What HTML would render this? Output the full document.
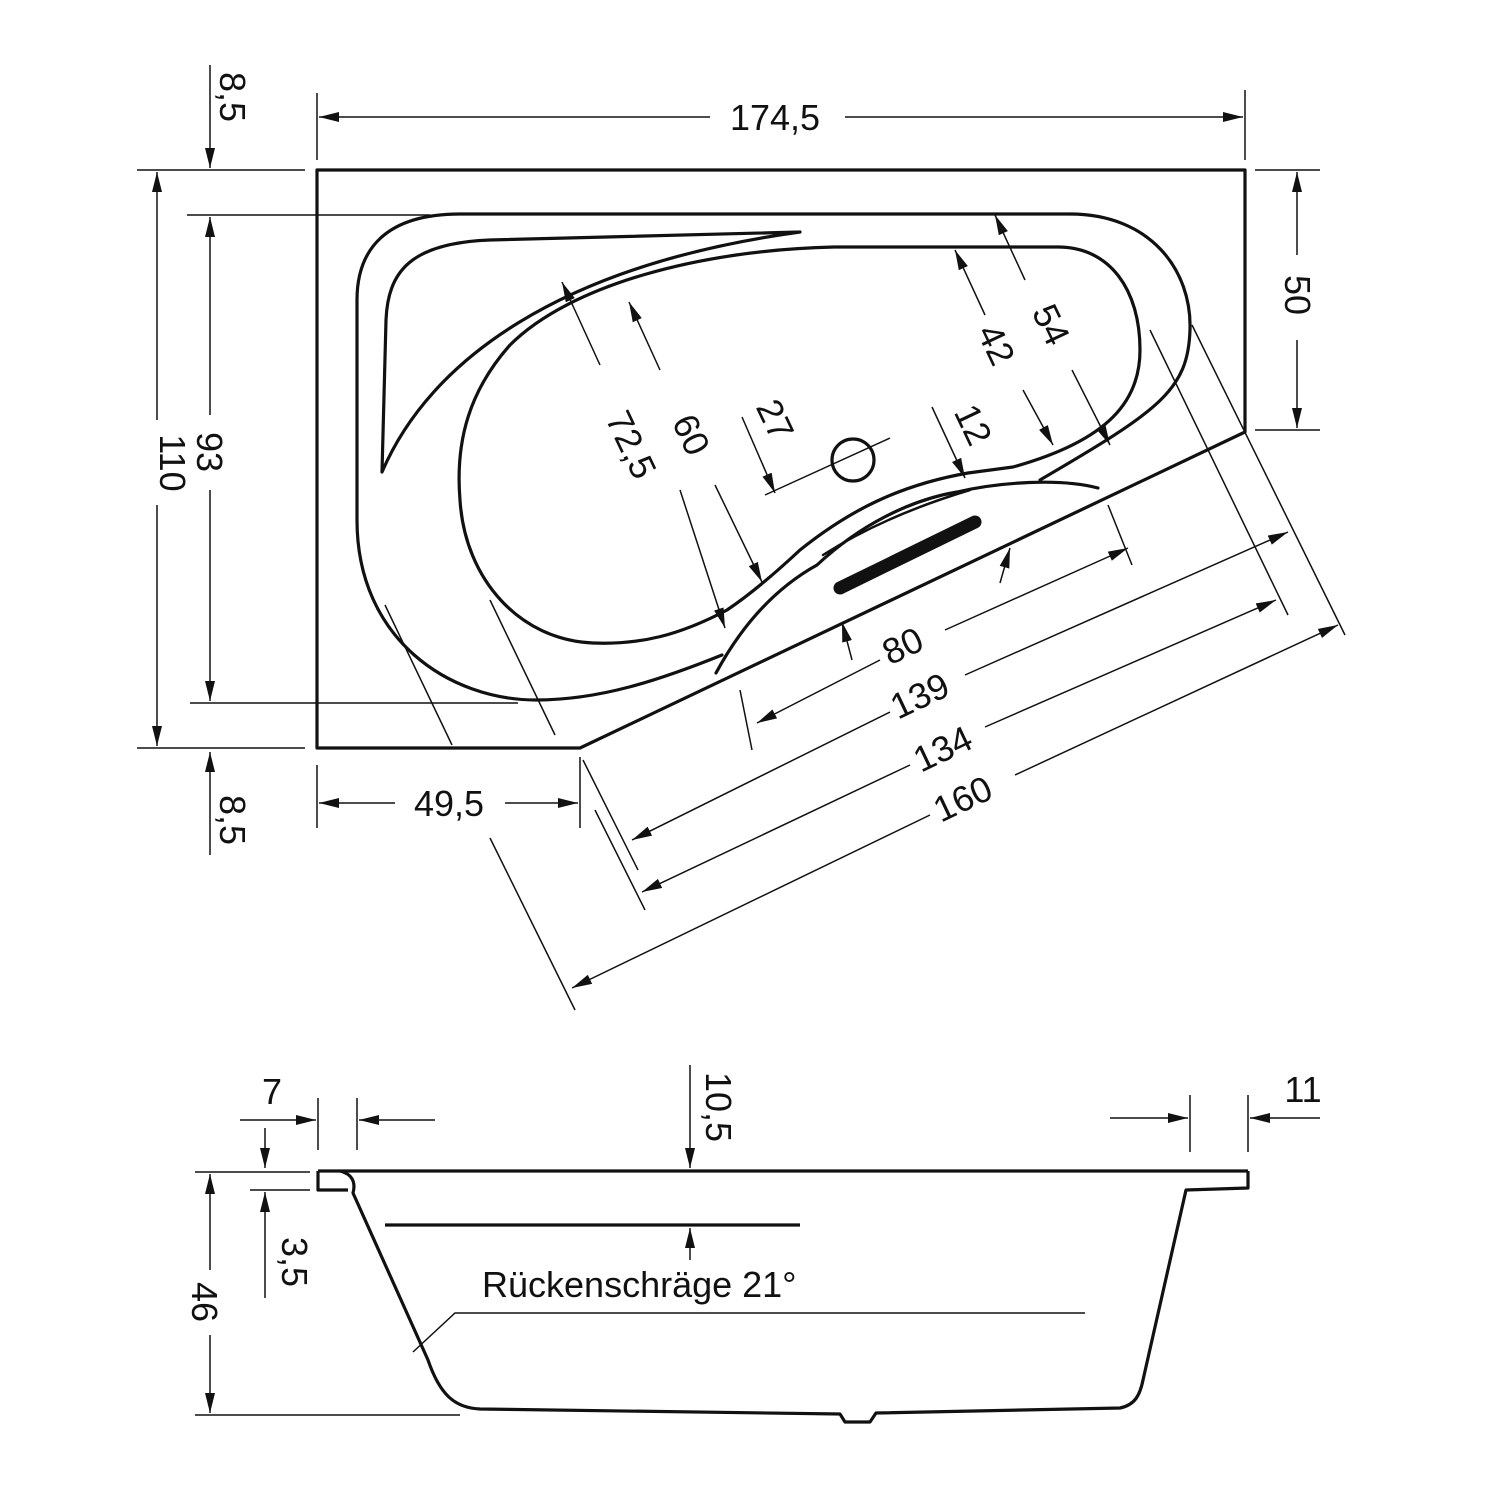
<!DOCTYPE html>
<html><head><meta charset="utf-8"><style>
html,body{margin:0;padding:0;background:#fff}
svg{display:block}
text{font-family:"Liberation Sans","DejaVu Sans",sans-serif;font-size:36px;fill:#111}
</style></head><body>
<svg width="1500" height="1500" viewBox="0 0 1500 1500" xmlns="http://www.w3.org/2000/svg">
<defs>
<marker id="a" viewBox="0 0 20 10" refX="20" refY="5" markerWidth="20" markerHeight="10" markerUnits="userSpaceOnUse" orient="auto">
<path d="M0,0 L20,5 L0,10 Z" fill="#111"/></marker>
</defs>
<g fill="none" stroke="#111" stroke-width="3.2" stroke-linejoin="round" stroke-linecap="round">
<path d="M317,170 L1245,170 L1245,432 L580,748 L317,748 Z"/>
<path d="M1070,214 L460,214 C385,214 357,250 357,300 L357,520 C357,640 450,700 536,700 C600,700 660,680 722,655"/>
<path d="M1070,214 C1150,214 1192,270 1190,330 C1188,390 1160,410 1040,480"/>
<path d="M800,232 L490,240 C410,243 388,272 386,320 L382,472 C430,360 560,265 800,232"/>
<path d="M834,247 L1058,247 C1110,247 1140,290 1140,350 C1140,400 1110,440 1013,467 L968,473 C900,485 850,510 800,550 C770,578 745,598 727,610 C680,635 640,645 593,643 C520,640 465,580 460,500 C455,440 470,390 510,345 C570,285 700,250 834,247 Z"/>
<path d="M716,673 C750,610 790,580 817,565 C860,525 910,500 957,492 C1000,482 1060,478 1098,488"/>
<path d="M823,555 C870,525 920,505 970,490" stroke-width="2.5"/>
<line x1="840" y1="588" x2="975" y2="522" stroke-width="13"/>
<circle cx="853" cy="460" r="21"/>
</g>
<g fill="none" stroke="#111" stroke-width="1.5">
<line x1="765" y1="495" x2="890" y2="438"/>
<line x1="137" y1="170" x2="305" y2="170"/><line x1="137" y1="748" x2="305" y2="748"/>
<line x1="157" y1="420" x2="157" y2="172" marker-end="url(#a)"/><line x1="157" y1="505" x2="157" y2="746" marker-end="url(#a)"/>
<line x1="187" y1="215" x2="430" y2="215"/><line x1="190" y1="703" x2="518" y2="703"/>
<line x1="210" y1="415" x2="210" y2="217" marker-end="url(#a)"/><line x1="210" y1="490" x2="210" y2="701" marker-end="url(#a)"/>
<line x1="210" y1="65" x2="210" y2="168" marker-end="url(#a)"/>
<line x1="210" y1="855" x2="210" y2="752" marker-end="url(#a)"/>
<line x1="317" y1="93" x2="317" y2="160"/><line x1="1245" y1="90" x2="1245" y2="160"/>
<line x1="710" y1="117" x2="319" y2="117" marker-end="url(#a)"/><line x1="845" y1="117" x2="1243" y2="117" marker-end="url(#a)"/>
<line x1="1255" y1="170" x2="1320" y2="170"/><line x1="1255" y1="430" x2="1320" y2="430"/>
<line x1="1297" y1="255" x2="1297" y2="172" marker-end="url(#a)"/><line x1="1297" y1="340" x2="1297" y2="428" marker-end="url(#a)"/>
<line x1="317" y1="765" x2="317" y2="828"/><line x1="580" y1="757" x2="580" y2="828"/>
<line x1="395" y1="803" x2="319" y2="803" marker-end="url(#a)"/><line x1="505" y1="803" x2="578" y2="803" marker-end="url(#a)"/>
<line x1="880" y1="660" x2="757" y2="723" marker-end="url(#a)"/><line x1="945" y1="630" x2="1128" y2="548" marker-end="url(#a)"/>
<line x1="890" y1="712" x2="632" y2="840" marker-end="url(#a)"/><line x1="965" y1="675" x2="1288" y2="532" marker-end="url(#a)"/>
<line x1="910" y1="765" x2="642" y2="892" marker-end="url(#a)"/><line x1="985" y1="727" x2="1276" y2="600" marker-end="url(#a)"/>
<line x1="930" y1="815" x2="572" y2="988" marker-end="url(#a)"/><line x1="1015" y1="775" x2="1338" y2="625" marker-end="url(#a)"/>
<line x1="740" y1="690" x2="752" y2="750"/><line x1="1108" y1="505" x2="1132" y2="565"/>
<line x1="1150" y1="330" x2="1288" y2="615"/><line x1="1192" y1="325" x2="1345" y2="635"/>
<line x1="385" y1="605" x2="452" y2="745"/><line x1="490" y1="838" x2="575" y2="1010"/>
<line x1="490" y1="600" x2="555" y2="735"/><line x1="595" y1="810" x2="645" y2="910"/>
<line x1="583" y1="760" x2="638" y2="870"/>
<line x1="600" y1="365" x2="562" y2="282" marker-end="url(#a)"/><line x1="680" y1="490" x2="725" y2="628" marker-end="url(#a)"/>
<line x1="660" y1="370" x2="629" y2="302" marker-end="url(#a)"/><line x1="715" y1="485" x2="762" y2="582" marker-end="url(#a)"/>
<line x1="1025" y1="280" x2="995" y2="215" marker-end="url(#a)"/><line x1="1072" y1="370" x2="1110" y2="445" marker-end="url(#a)"/>
<line x1="985" y1="315" x2="955" y2="250" marker-end="url(#a)"/><line x1="1023" y1="390" x2="1053" y2="445" marker-end="url(#a)"/>
<line x1="742" y1="417" x2="775" y2="493" marker-end="url(#a)"/>
<line x1="932" y1="407" x2="965" y2="478" marker-end="url(#a)"/>
<line x1="1000" y1="583" x2="1010" y2="548" marker-end="url(#a)"/>
<line x1="852" y1="660" x2="842" y2="622" marker-end="url(#a)"/>
</g>
<text x="775" y="130" text-anchor="middle">174,5</text>
<text transform="translate(160,463) rotate(90)" text-anchor="middle">110</text>
<text transform="translate(197,452) rotate(90)" text-anchor="middle">93</text>
<text transform="translate(220,97) rotate(90)" text-anchor="middle">8,5</text>
<text transform="translate(220,820) rotate(90)" text-anchor="middle">8,5</text>
<text transform="translate(1285,295) rotate(90)" text-anchor="middle">50</text>
<text x="449" y="816" text-anchor="middle">49,5</text>
<text transform="translate(620,450) rotate(64.6)" text-anchor="middle">72,5</text>
<text transform="translate(680,440) rotate(64.6)" text-anchor="middle">60</text>
<text transform="translate(1040,330) rotate(64.6)" text-anchor="middle">54</text>
<text transform="translate(985,350) rotate(64.6)" text-anchor="middle">42</text>
<text transform="translate(764,425) rotate(64.6)" text-anchor="middle">27</text>
<text transform="translate(962,430) rotate(64.6)" text-anchor="middle">12</text>
<text transform="translate(908,657) rotate(-25.4)" text-anchor="middle">80</text>
<text transform="translate(925,707) rotate(-25.4)" text-anchor="middle">139</text>
<text transform="translate(948,760) rotate(-25.4)" text-anchor="middle">134</text>
<text transform="translate(968,810) rotate(-25.4)" text-anchor="middle">160</text>
<g fill="none" stroke="#111" stroke-width="3.2" stroke-linejoin="round">
<line x1="318" y1="1171" x2="1248" y2="1171"/>
<path d="M318,1171 L318,1190 L348,1190"/>
<path d="M340,1171 C352,1174 356,1182 353,1193 L428,1360 C440,1395 455,1408 480,1409 L840,1414 L845,1422 L870,1422 L876,1413 L1120,1408 C1135,1405 1140,1395 1143,1380 L1186,1190 L1248,1188 L1248,1171"/>
<line x1="385" y1="1225" x2="800" y2="1225"/>
</g>
<g fill="none" stroke="#111" stroke-width="1.5">
<line x1="318" y1="1098" x2="318" y2="1150"/><line x1="357" y1="1098" x2="357" y2="1150"/>
<line x1="240" y1="1120" x2="316" y2="1120" marker-end="url(#a)"/><line x1="435" y1="1120" x2="359" y2="1120" marker-end="url(#a)"/>
<line x1="1190" y1="1095" x2="1190" y2="1152"/><line x1="1248" y1="1095" x2="1248" y2="1152"/>
<line x1="1110" y1="1118" x2="1188" y2="1118" marker-end="url(#a)"/><line x1="1320" y1="1118" x2="1250" y2="1118" marker-end="url(#a)"/>
<line x1="690" y1="1065" x2="690" y2="1168" marker-end="url(#a)"/>
<line x1="690" y1="1260" x2="690" y2="1228" marker-end="url(#a)"/>
<line x1="250" y1="1190" x2="310" y2="1190"/>
<line x1="265" y1="1128" x2="265" y2="1168" marker-end="url(#a)"/>
<line x1="265" y1="1298" x2="265" y2="1192" marker-end="url(#a)"/>
<line x1="195" y1="1172" x2="310" y2="1172"/><line x1="195" y1="1415" x2="460" y2="1415"/>
<line x1="210" y1="1270" x2="210" y2="1174" marker-end="url(#a)"/><line x1="210" y1="1335" x2="210" y2="1413" marker-end="url(#a)"/>
<polyline points="1085,1313 455,1313 413,1352"/>
</g>
<text x="272" y="1104" text-anchor="middle">7</text>
<text x="1303" y="1102" text-anchor="middle">11</text>
<text transform="translate(706,1107) rotate(90)" text-anchor="middle">10,5</text>
<text transform="translate(282,1262) rotate(90)" text-anchor="middle">3,5</text>
<text transform="translate(192,1302) rotate(90)" text-anchor="middle">46</text>
<text x="482" y="1297" font-size="38">Rückenschräge 21°</text>
</svg>
</body></html>
